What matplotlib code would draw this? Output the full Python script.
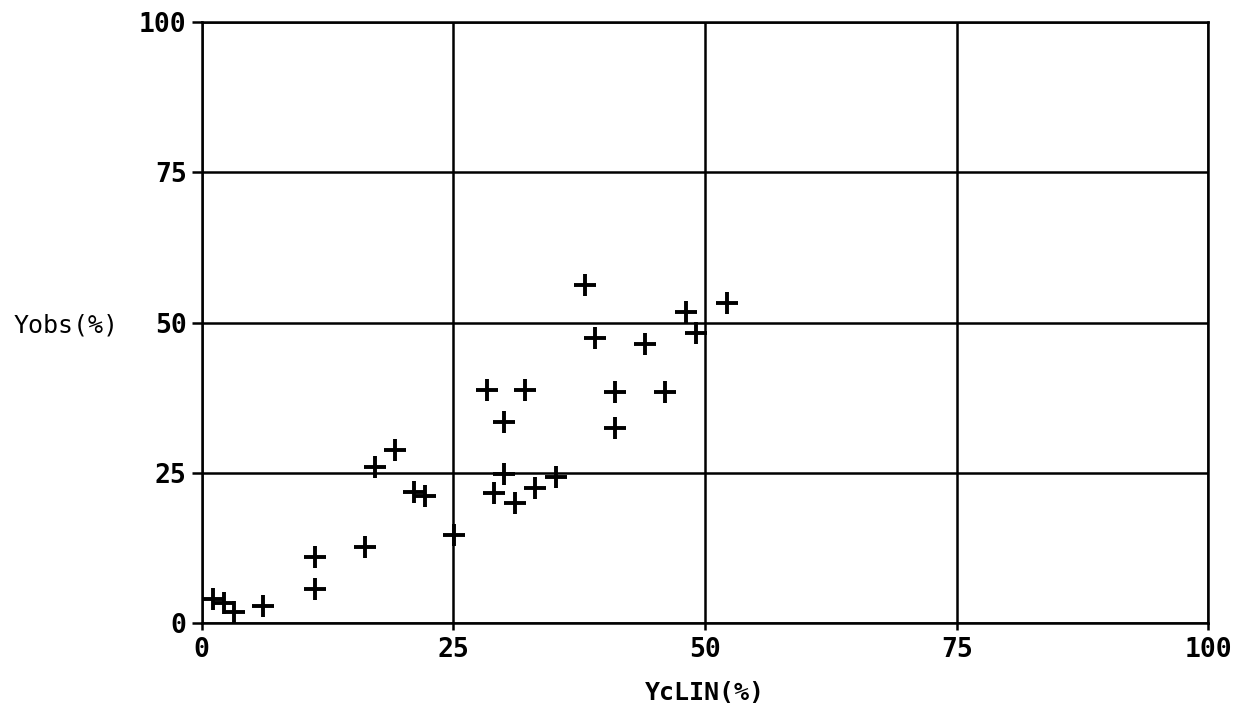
import matplotlib
matplotlib.use("Agg")
import matplotlib.pyplot as plt

# values
yclin = [1.1, 2.2, 3.2, 6.1, 11.2, 11.2, 16.2, 17.2, 19.2, 21.1, 22.2, 25.1,
         28.3, 29.0, 30.0, 30.0, 31.1, 32.1, 33.1, 35.2, 38.1, 39.1, 41.1,
         41.1, 44.0, 46.0, 48.1, 49.1, 52.2]
yobs = [4.0, 3.3, 1.8, 2.8, 5.7, 11.0, 12.7, 26.0, 28.8, 21.8, 21.2, 14.7,
        38.8, 21.7, 33.5, 24.8, 20.0, 38.8, 22.5, 24.3, 56.3, 47.5, 38.5,
        32.5, 46.5, 38.5, 51.7, 48.3, 53.2]
ticks = [0, 25, 50, 75, 100]
tick_labels = ['0', '25', '50', '75', '100']

fig = plt.figure(figsize=(12.38, 7.19), dpi=100)
ax = fig.add_axes([0.163, 0.1335, 0.813, 0.8355])

ax.plot(yclin, yobs, linestyle='none', marker='+', color='black',
        markersize=16, markeredgewidth=2.8)

ax.set_xlim(0, 100)
ax.set_ylim(0, 100)
ax.set_xticks(ticks)
ax.set_yticks(ticks)
ax.set_xticklabels(tick_labels)
ax.set_yticklabels(tick_labels)

ax.grid(True, color='black', linewidth=1.8)
for s in ax.spines.values():
    s.set_linewidth(1.8)
    s.set_color('black')

ax.tick_params(axis='y', direction='out', length=7, width=1.8, pad=4)
ax.tick_params(axis='x', direction='out', length=5, width=1.8, pad=5)
for lab in ax.get_xticklabels() + ax.get_yticklabels():
    lab.set_fontfamily('DejaVu Sans Mono')
    lab.set_fontweight('bold')
    lab.set_fontsize(19)

ax.set_xlabel("YcLIN(%)", fontfamily='DejaVu Sans Mono', fontweight='bold',
              fontsize=18, labelpad=13)
fig.text(66 / 1238, 1 - 325 / 719, "Yobs(%)", fontfamily='DejaVu Sans Mono',
         fontsize=18, ha='center', va='center')

fig.savefig("out.png", dpi=100)
